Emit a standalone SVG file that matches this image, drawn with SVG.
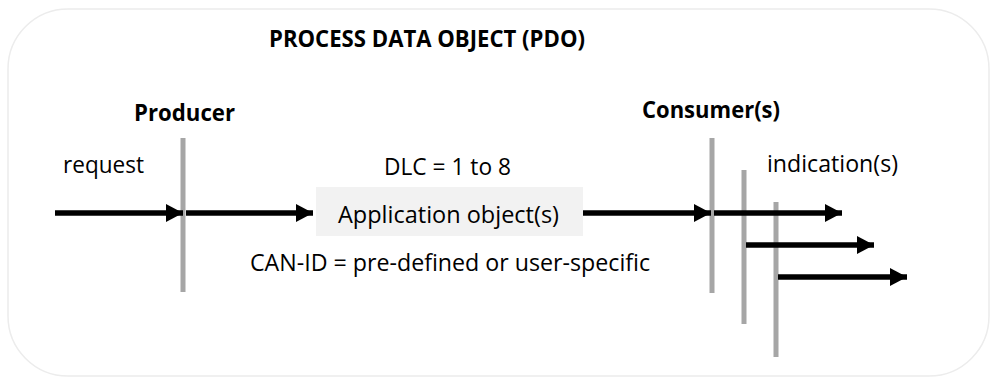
<svg xmlns="http://www.w3.org/2000/svg" width="992" height="378" viewBox="0 0 992 378">
<style>
text{font-family:"Open Sans","Noto Sans","Liberation Sans",sans-serif;fill:#000;font-size:23px}
.b{font-weight:bold}
.bar{fill:#a6a6a6}
.ln{stroke:#000;stroke-width:5.5;fill:none}
</style>
<defs>
<marker id="ah" markerUnits="userSpaceOnUse" markerWidth="18" markerHeight="20" refX="17" refY="10" orient="auto">
<path d="M0,1 L17,10 L0,19 Z" fill="#000"/>
</marker>
</defs>
<rect x="8" y="9" width="981" height="367" rx="60" ry="60" fill="#fff" stroke="#ececec" stroke-width="1.5"/>
<text class="b" x="269" y="47" textLength="316" lengthAdjust="spacingAndGlyphs">PROCESS DATA OBJECT (PDO)</text>
<g id="producer">
<text class="b" x="134" y="121" textLength="101" lengthAdjust="spacingAndGlyphs">Producer</text>
<rect class="bar" x="180.5" y="138" width="5" height="154"/>
</g>
<g id="consumer1">
<text class="b" x="642" y="118" textLength="138" lengthAdjust="spacingAndGlyphs">Consumer(s)</text>
<rect class="bar" x="709.5" y="138" width="5" height="155"/>
</g>
<g id="consumer2"><rect class="bar" x="741.5" y="170" width="5" height="154"/></g>
<g id="consumer3"><rect class="bar" x="773.5" y="202" width="5" height="155"/></g>
<g id="appobj">
<rect x="316" y="187" width="267" height="49" fill="#f2f2f2"/>
<text x="338" y="223" textLength="221" lengthAdjust="spacingAndGlyphs">Application object(s)</text>
</g>
<text x="63" y="173" textLength="81" lengthAdjust="spacingAndGlyphs">request</text>
<text x="384" y="175" textLength="127" lengthAdjust="spacingAndGlyphs">DLC = 1 to 8</text>
<text x="250" y="271" textLength="400" lengthAdjust="spacingAndGlyphs">CAN-ID = pre-defined or user-specific</text>
<text x="767" y="172" textLength="131" lengthAdjust="spacingAndGlyphs">indication(s)</text>
<g id="connectors">
<line class="ln" x1="55" y1="213" x2="183" y2="213" marker-end="url(#ah)"/>
<line class="ln" x1="186" y1="213" x2="313" y2="213" marker-end="url(#ah)"/>
<line class="ln" x1="583" y1="213" x2="711" y2="213" marker-end="url(#ah)"/>
<line class="ln" x1="714" y1="213" x2="842" y2="213" marker-end="url(#ah)"/>
<line class="ln" x1="746" y1="245" x2="874" y2="245" marker-end="url(#ah)"/>
<line class="ln" x1="778" y1="277" x2="907" y2="277" marker-end="url(#ah)"/>
</g>
</svg>
